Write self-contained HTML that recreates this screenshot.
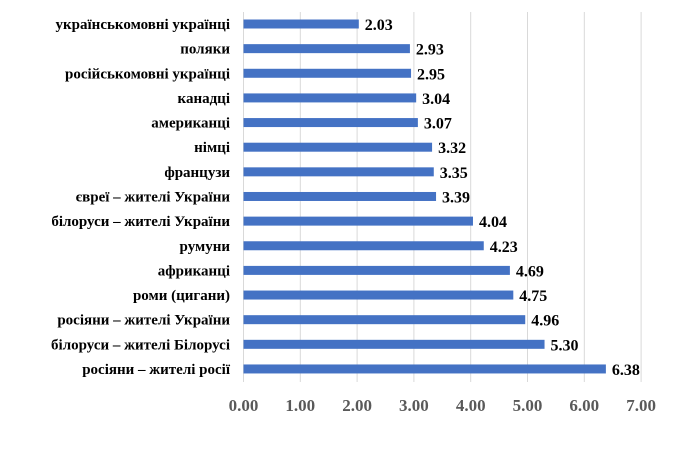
<!DOCTYPE html>
<html><head><meta charset="utf-8"><style>
body{margin:0;background:#fff;}
svg text{font-family:"Liberation Serif",serif;font-weight:bold;}
</style></head><body>
<svg id="chart" width="700" height="445" xmlns="http://www.w3.org/2000/svg"></svg>
<script>
const categories=["українськомовні українці","поляки","російськомовні українці","канадці","американці","німці","французи","євреї – жителі України","білоруси – жителі України","румуни","африканці","роми (цигани)","росіяни – жителі України","білоруси – жителі Білорусі","росіяни – жителі росії"];
const values=[2.03,2.93,2.95,3.04,3.07,3.32,3.35,3.39,4.04,4.23,4.69,4.75,4.96,5.30,6.38];
const ticks=[0,1,2,3,4,5,6,7];
const svg=document.getElementById('chart');
const NS='http://www.w3.org/2000/svg';
const x0=243.5,scale=56.8,yTop=24,step=24.64,barH=9,gTop=12,gBot=382;
const xs=v=>x0+v*scale;
const ys=i=>yTop+i*step;
function mk(t,a){const e=document.createElementNS(NS,t);for(const k in a)e.setAttribute(k,a[k]);svg.appendChild(e);return e;}
ticks.forEach((t,i)=>{
  const g=mk('line',{x1:xs(t),x2:xs(t),y1:gTop,y2:gBot,stroke:'#d9d9d9','stroke-width':1});
  
  
  const l=mk('text',{x:xs(t),y:411,'text-anchor':'middle','font-size':17,fill:'#595959'});
  l.textContent=t.toFixed(2);
  
  
});
categories.forEach((c,i)=>{
  const y=ys(i);
  const b=mk('rect',{x:x0,y:y-barH/2,width:xs(values[i])-x0,height:barH,fill:'#4472c4'});
  
  
  const v=mk('text',{x:xs(values[i])+6,y:y+6,'font-size':16,fill:'#000'});
  v.textContent=values[i].toFixed(2);
  
  
  const t=mk('text',{x:230,y:y+5,'text-anchor':'end','font-size':15,fill:'#000'});
  t.textContent=c;
  
  
});
</script>
</body></html>
